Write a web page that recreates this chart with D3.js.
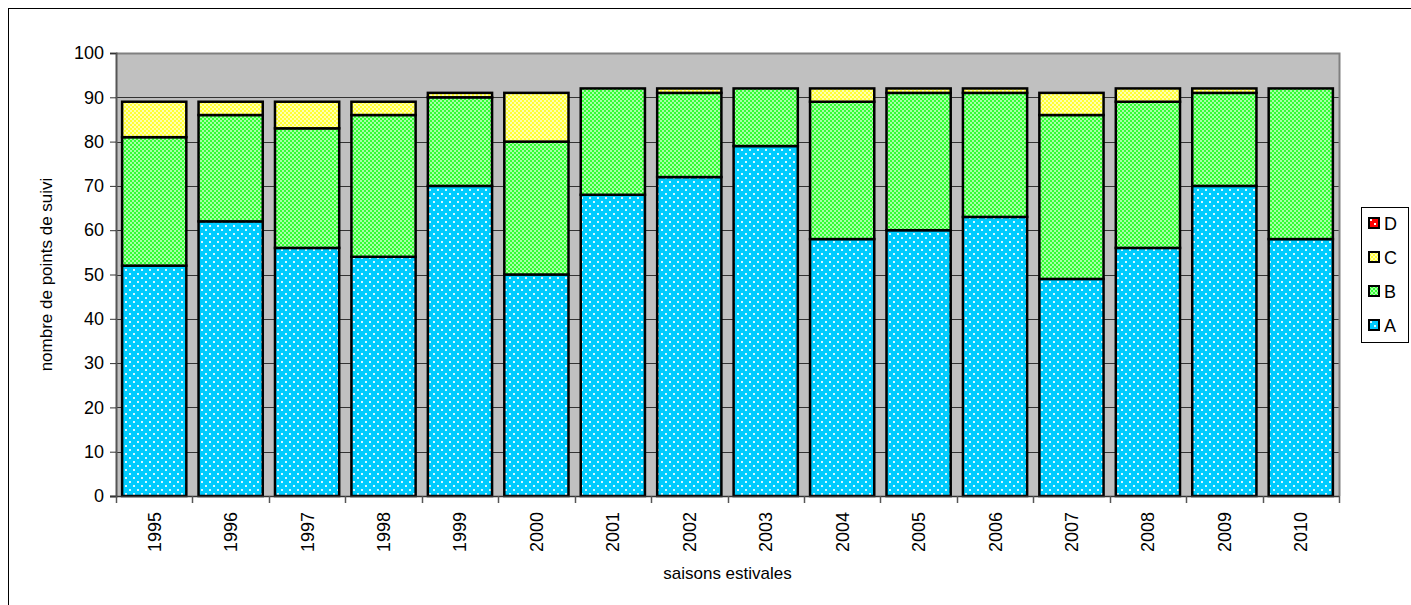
<!DOCTYPE html>
<html><head><meta charset="utf-8">
<script src="https://cdn.jsdelivr.net/npm/d3@7"></script>
<style>body{margin:0;background:#fff;}svg{display:block;font-family:Arial,"Liberation Sans",sans-serif;}</style>
</head><body>
<svg id="c" width="1411" height="605"></svg>
<script>
const years = ["1995","1996","1997","1998","1999","2000","2001","2002","2003","2004","2005","2006","2007","2008","2009","2010"];
const seriesA = [52,62,56,54,70,50,68,72,79,58,60,63,49,56,70,58];
const seriesB = [29,24,27,32,20,30,24,19,13,31,31,28,37,33,21,34];
const seriesC = [8,3,6,3,1,11,0,1,0,3,1,1,5,3,1,0];
const seriesD = [0,0,0,0,0,0,0,0,0,0,0,0,0,0,0,0];
const seriesNames = ["A","B","C","D"];
const yTicks = [0,10,20,30,40,50,60,70,80,90,100];

const svg = d3.select("#c");
const M = {left:116, right:1339, top:53, bottom:496};

const defs = svg.append("defs");
function pat(id, bg, fn){
  const p = defs.append("pattern").attr("id",id).attr("patternUnits","userSpaceOnUse").attr("width",8).attr("height",8);
  p.append("rect").attr("width",8).attr("height",8).attr("fill",bg);
  fn(p);
}
pat("pA","#00CCFF",p=>{
  p.append("rect").attr("x",1).attr("y",1).attr("width",2).attr("height",2).attr("fill","#ffffff").attr("opacity",0.85);
  p.append("rect").attr("x",5).attr("y",5).attr("width",2).attr("height",2).attr("fill","#ffffff").attr("opacity",0.85);
});
pat("pB","#33FF33",p=>{
  for(let i=0;i<8;i+=2)for(let j=0;j<8;j+=2){ if(((i+j)/2)%2===0) p.append("rect").attr("x",i).attr("y",j).attr("width",2).attr("height",2).attr("fill","#a8ffa8");}
});
pat("pC","#FFFF33",p=>{
  for(let i=0;i<8;i+=2)for(let j=0;j<8;j+=2){ if(((i+j)/2)%2===0) p.append("rect").attr("x",i).attr("y",j).attr("width",2).attr("height",2).attr("fill","#ffffb0");}
});
pat("pD","#FF0000",p=>{
  p.append("rect").attr("x",1).attr("y",1).attr("width",2).attr("height",2).attr("fill","#ffffff");
  p.append("rect").attr("x",5).attr("y",5).attr("width",2).attr("height",2).attr("fill","#ffffff");
});
const fills = {A:"url(#pA)",B:"url(#pB)",C:"url(#pC)",D:"url(#pD)"};

svg.append("rect").attr("x",8.5).attr("y",8.5).attr("width",1410).attr("height",620).attr("fill","none").attr("stroke","#000").attr("stroke-width",1);

const x = d3.scaleBand().domain(years).range([M.left,M.right]).paddingInner(0.16).paddingOuter(0.08);
const y = d3.scaleLinear().domain([0,100]).range([M.bottom,M.top]);

svg.append("rect").attr("x",M.left).attr("y",M.top).attr("width",M.right-M.left).attr("height",M.bottom-M.top).attr("fill","#C0C0C0");
svg.append("g").selectAll("line").data(yTicks.filter(d=>d>0&&d<100)).join("line")
  .attr("x1",M.left).attr("x2",M.right).attr("y1",d=>Math.round(y(d))+0.5).attr("y2",d=>Math.round(y(d))+0.5)
  .attr("stroke","#333").attr("stroke-width",1);
svg.append("path").attr("d",`M${M.left},${M.top+0.5}H${M.right+0.5}V${M.bottom}`).attr("fill","none").attr("stroke","#808080").attr("stroke-width",2);

const data = years.map((yr,i)=>({year:yr,A:seriesA[i],B:seriesB[i],C:seriesC[i],D:seriesD[i]}));
const stack = d3.stack().keys(seriesNames)(data);
const g = svg.append("g");
stack.forEach(layer=>{
  g.selectAll(null).data(layer.filter(d=>d[1]-d[0]>0)).join("rect")
    .attr("x",d=>x(d.data.year)).attr("width",x.bandwidth())
    .attr("y",d=>y(d[1])).attr("height",d=>y(d[0])-y(d[1]))
    .attr("fill",fills[layer.key]).attr("stroke","#000").attr("stroke-width",2.5);
});

const yAxis = svg.append("g").attr("transform",`translate(${M.left},0)`)
  .call(d3.axisLeft(y).tickValues(yTicks).tickSize(6).tickPadding(6));
yAxis.select(".domain").attr("stroke","#555").attr("stroke-width",2);
yAxis.selectAll(".tick line").attr("stroke","#333");
yAxis.selectAll("text").attr("font-size",18).attr("fill","#000").attr("font-family","Arial,'Liberation Sans',sans-serif");

const xg = svg.append("g").attr("transform",`translate(0,${M.bottom})`);
xg.append("line").attr("x1",M.left-6).attr("x2",M.right).attr("y1",0.5).attr("y2",0.5).attr("stroke","#333").attr("stroke-width",1.5);
const bounds = d3.range(years.length+1).map(i=>M.left + i*(M.right-M.left)/years.length);
xg.selectAll("line.t").data(bounds).join("line").attr("class","t")
  .attr("x1",d=>Math.round(d)+0.5).attr("x2",d=>Math.round(d)+0.5).attr("y1",0).attr("y2",7).attr("stroke","#555").attr("stroke-width",1.5);
xg.selectAll("text").data(years).join("text")
  .attr("transform",d=>`translate(${x(d)+x.bandwidth()/2+6.5},16) rotate(-90)`)
  .attr("text-anchor","end").attr("font-size",18).attr("fill","#000").text(d=>d);

svg.append("text").attr("transform",`translate(52,${(M.top+M.bottom)/2}) rotate(-90)`).attr("text-anchor","middle")
  .attr("font-size",17).text("nombre de points de suivi");
svg.append("text").attr("x",(M.left+M.right)/2).attr("y",579).attr("text-anchor","middle").attr("font-size",17).text("saisons estivales");

const lg = svg.append("g");
lg.append("rect").attr("x",1361.5).attr("y",207.5).attr("width",47).attr("height",135).attr("fill","#fff").attr("stroke","#000").attr("stroke-width",1);
const legOrder = ["D","C","B","A"];
lg.selectAll("g.it").data(legOrder).join("g").attr("class","it")
  .attr("transform",(d,i)=>`translate(1369,${218+i*34})`)
  .each(function(d){
    const s=d3.select(this);
    s.append("rect").attr("width",10).attr("height",10).attr("fill",fills[d]).attr("stroke","#000").attr("stroke-width",2);
    s.append("text").attr("x",15).attr("y",12).attr("font-size",18).text(d);
  });
</script>
</body></html>
